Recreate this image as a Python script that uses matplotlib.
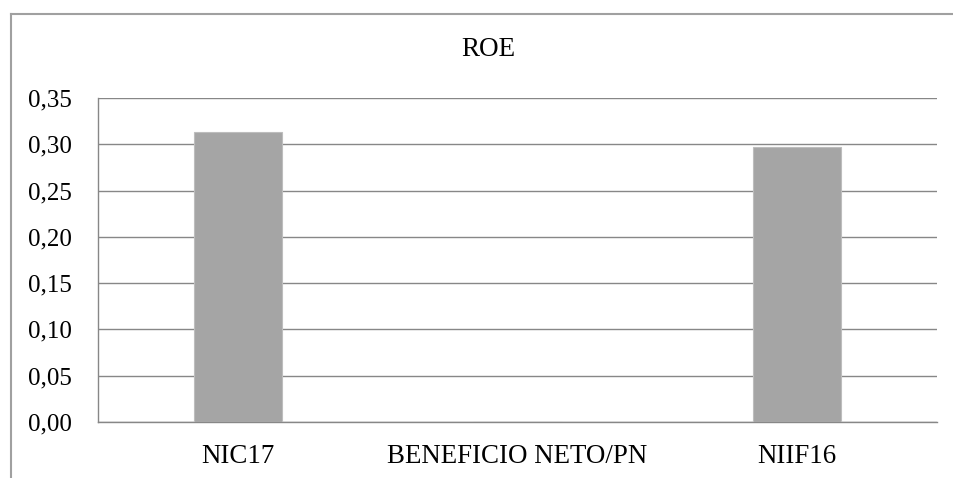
import matplotlib
matplotlib.use("Agg")
import matplotlib.pyplot as plt
from matplotlib.lines import Line2D
from matplotlib.ticker import FuncFormatter

# data
categories = ["NIC17", "BENEFICIO NETO/PN", "NIIF16"]
roe_values = [0.313, 0.0, 0.297]
y_ticks = [0.00, 0.05, 0.10, 0.15, 0.20, 0.25, 0.30, 0.35]

W, H, DPI = 954, 478, 100
plt.rcParams['font.family'] = ['Liberation Serif', 'DejaVu Serif']

fig = plt.figure(figsize=(W / DPI, H / DPI), dpi=DPI)
fig.patch.set_facecolor('white')

# plot area in pixels: left 98, right 937, top 98 (0.35), bottom 422 (0.00)
ax = fig.add_axes([98 / W, 1 - 422 / H, (937 - 98) / W, (422 - 98) / H])

x = list(range(len(categories)))
ax.bar(x, roe_values, width=0.315, color='#a5a5a5', edgecolor='#bdbdbd', linewidth=0.8, zorder=3)

ax.set_xlim(-0.5, len(categories) - 0.5)
ax.set_ylim(0, 0.35)
ax.set_yticks(y_ticks)
ax.yaxis.set_major_formatter(FuncFormatter(lambda v, p: f"{v:.2f}".replace('.', ',')))
ax.set_xticks(x)
ax.set_xticklabels(categories)

ax.grid(axis='y', color='#878787', linewidth=1.0, zorder=0)
ax.set_axisbelow(True)
for s in ['top', 'right']:
    ax.spines[s].set_visible(False)
for s in ['left', 'bottom']:
    ax.spines[s].set_color('#878787')
    ax.spines[s].set_linewidth(1.0)

ax.tick_params(axis='both', length=0, colors='black')
ax.tick_params(axis='y', pad=18.5, labelsize=18)
ax.tick_params(axis='x', pad=15.5, labelsize=19.4)

fig.text(488 / W, 1 - 50 / H, "ROE", ha='center', va='center', fontsize=19.5)

# outer chart border: only top and left edges are inside the picture
bx, by = 11 / W, 1 - 14 / H
fig.add_artist(Line2D([bx, 1.1], [by, by], transform=fig.transFigure,
                      color='#a0a0a0', linewidth=1.5))
fig.add_artist(Line2D([bx, bx], [-0.1, by], transform=fig.transFigure,
                      color='#a0a0a0', linewidth=1.5))

fig.savefig("out.png", dpi=DPI)
